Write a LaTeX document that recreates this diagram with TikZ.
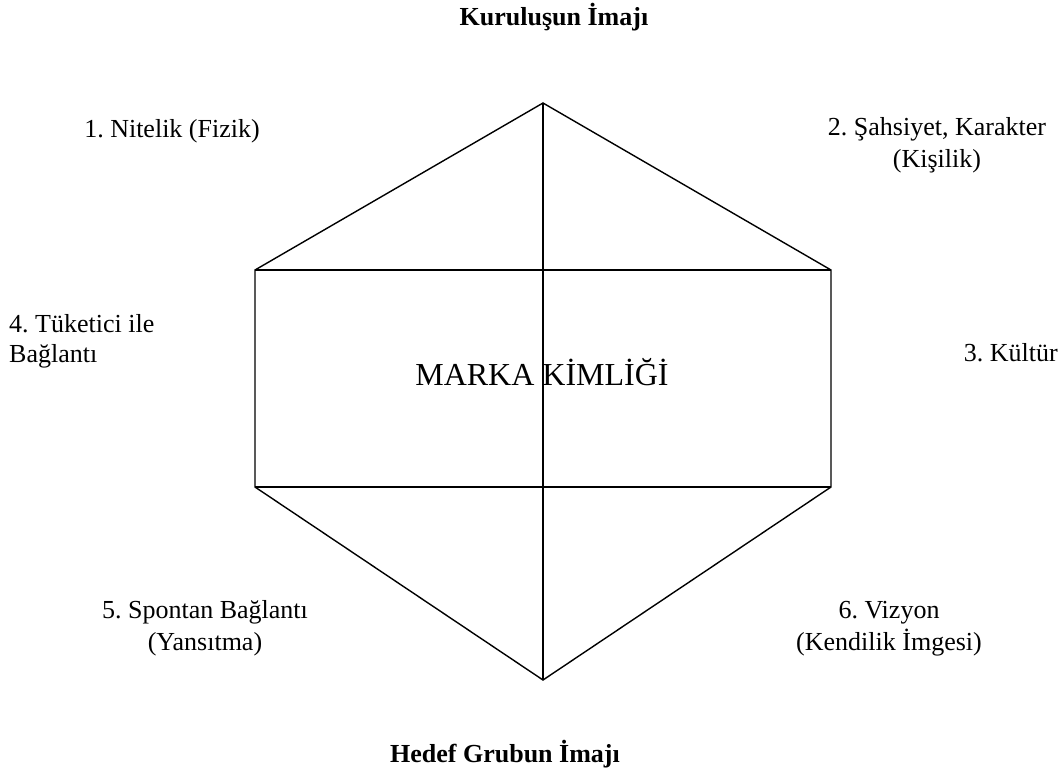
\documentclass[tikz,border=0pt]{standalone}
\usepackage{fontspec}
\setmainfont{Liberation Serif}
\begin{document}
\frenchspacing
\begin{tikzpicture}[x=1pt,y=-1pt,
  edge/.style={line width=1.4pt},
  lbl/.style={inner sep=0pt,anchor=base,font=\fontsize{26}{31}\selectfont},
  title/.style={inner sep=0pt,anchor=base,font=\fontsize{26}{31}\selectfont\bfseries},
  core/.style={inner sep=0pt,anchor=base,font=\fontsize{32}{38}\selectfont}]
\useasboundingbox (0,0) rectangle (1063,772);
% hexagon vertices
\coordinate (T) at (543,103);
\coordinate (UL) at (255,270);
\coordinate (UR) at (831,270);
\coordinate (LL) at (255,487);
\coordinate (LR) at (831,487);
\coordinate (B) at (543,680);
\draw[edge,line join=miter] (T) -- (UR) -- (LR) -- (B) -- (LL) -- (UL) -- cycle;
\draw[edge] (T) -- (B);
\draw[edge] (UL) -- (UR);
\draw[edge] (LL) -- (LR);
% titles
\node[title] (kur) at (554,25) {Kuruluşun İmajı};
\node[title] (hed) at (505,762) {Hedef Grubun İmajı};
% six facets
\node[lbl] (n1) at (172,137) {1. Nitelik (Fizik)};
\node[lbl] (n2a) at (937,135) {2. Şahsiyet, Karakter};
\node[lbl] (n2b) at (937,167) {(Kişilik)};
\node[lbl,anchor=base west] (n4a) at (9,332) {4. Tüketici ile};
\node[lbl,anchor=base west] (n4b) at (9,362) {Bağlantı};
\node[lbl,anchor=base east] (n3) at (1058,361) {3. Kültür};
\node[lbl] (n5a) at (205,618) {5. Spontan Bağlantı};
\node[lbl] (n5b) at (205,650) {(Yansıtma)};
\node[lbl] (n6a) at (889,618) {6. Vizyon};
\node[lbl] (n6b) at (889,650) {(Kendilik İmgesi)};
% centre
\node[core] (mk) at (542,385) {MARKA KİMLİĞİ};
\end{tikzpicture}
\end{document}
